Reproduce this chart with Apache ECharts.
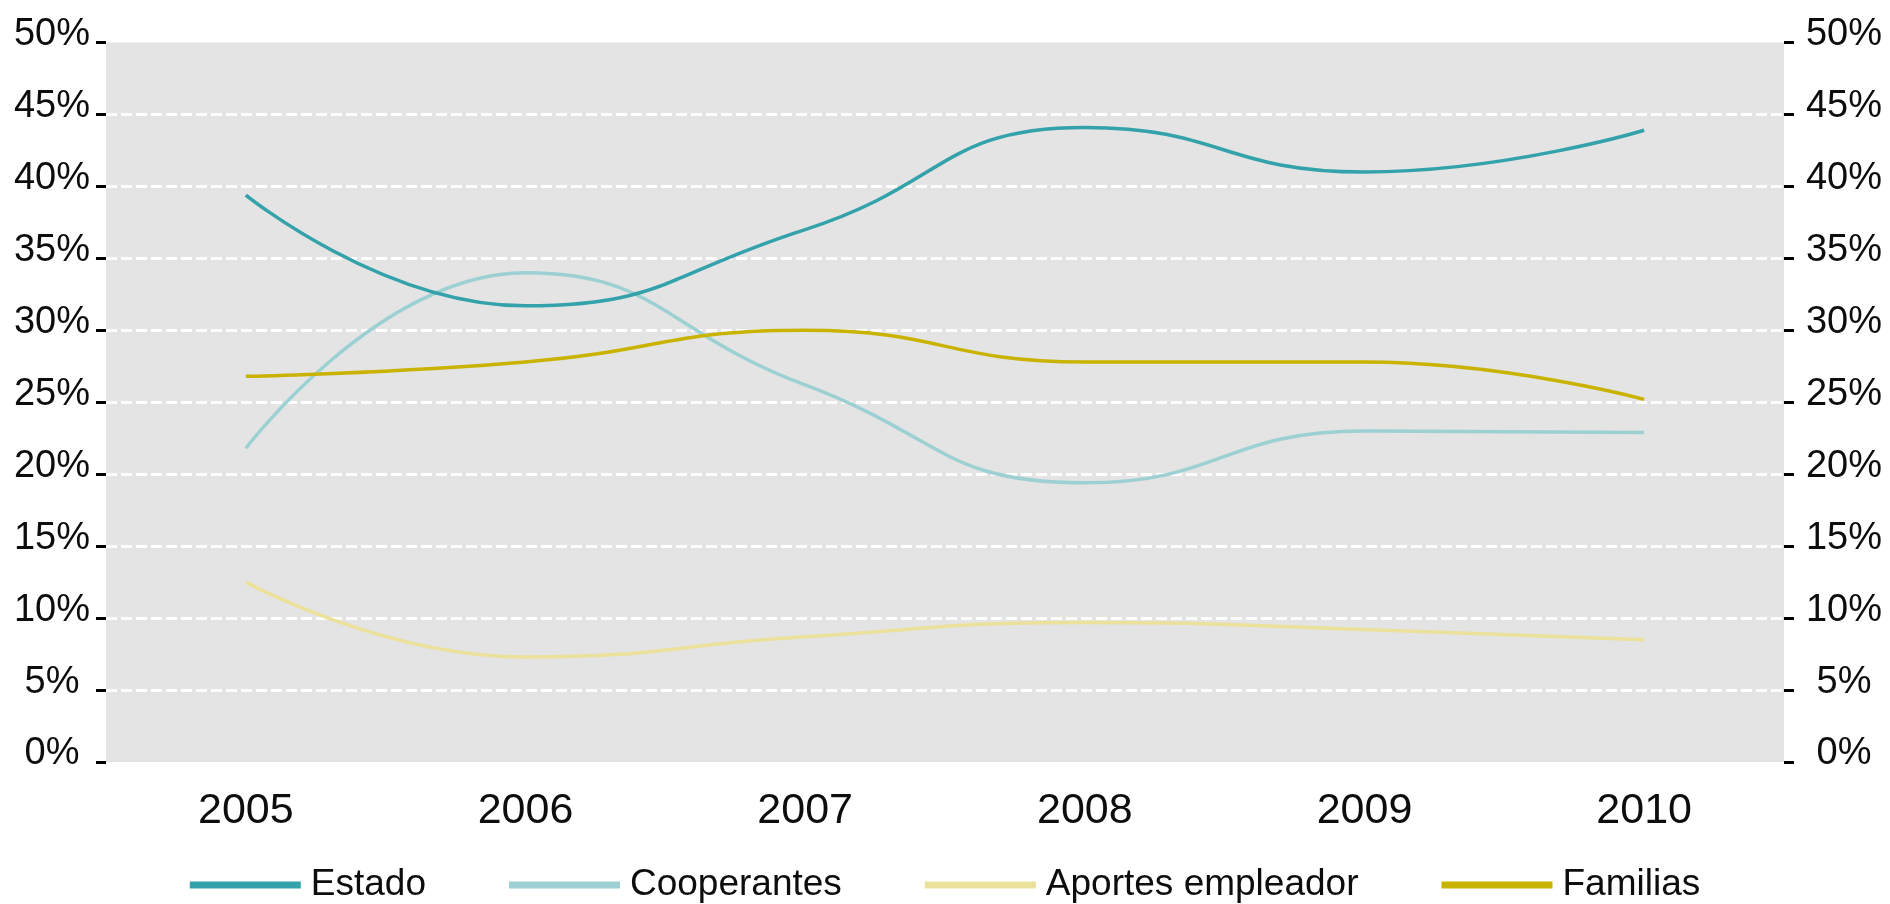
<!DOCTYPE html>
<html>
<head>
<meta charset="utf-8">
<script src="https://cdn.jsdelivr.net/npm/echarts@6/dist/echarts.min.js"></script>
<style>
html,body{margin:0;padding:0;background:#fff;}
#chart{width:1890px;height:904px;}
</style>
</head>
<body>
<div id="chart"></div>
<script>
const years = ['2005', '2006', '2007', '2008', '2009', '2010'];
const estado = [39.4, 31.7, 37.0, 44.1, 41.0, 43.9];
const cooperantes = [21.8, 34.0, 26.2, 19.4, 23.0, 22.9];
const aportes = [12.5, 7.3, 8.7, 9.7, 9.2, 8.5];
const familias = [26.8, 27.8, 30.0, 27.8, 27.8, 25.2];
const yTicks = [0, 5, 10, 15, 20, 25, 30, 35, 40, 45, 50];

const FONT = '"Liberation Sans", Arial, sans-serif';

const chart = echarts.init(document.getElementById('chart'), null, {renderer: 'canvas'});

function valueAxis(pos, margin) {
  return {
    type: 'value',
    position: pos,
    min: yTicks[0],
    max: yTicks[yTicks.length - 1],
    interval: yTicks[1] - yTicks[0],
    axisLine: {show: false},
    axisTick: {show: true, inside: false, length: 10, lineStyle: {color: '#000', width: 3}},
    axisLabel: {
      formatter: v => v + '%',
      fontFamily: FONT, fontSize: 38, color: '#0d0d0d',
      align: 'center', margin: margin,
      verticalAlign: 'bottom', lineHeight: 16
    },
    splitLine: {
      show: pos === 'left',
      showMinLine: false, showMaxLine: false,
      lineStyle: {color: '#ffffff', width: 3, type: [11, 4]}
    }
  };
}

const lw = 3.5;
chart.setOption({
  animation: false,
  backgroundColor: '#ffffff',
  grid: {left: 106, right: 106, top: 42.5, bottom: 142, show: true, backgroundColor: '#e3e4e3', borderWidth: 0},
  xAxis: {
    type: 'category',
    data: years,
    boundaryGap: true,
    axisLine: {show: false},
    axisTick: {show: false},
    axisLabel: {fontFamily: FONT, fontSize: 43, color: '#0d0d0d', margin: 49, verticalAlign: 'middle'},
    splitLine: {show: false}
  },
  yAxis: [valueAxis('left', 54), valueAxis('right', 60)],
  legend: {
    top: 854,
    left: 'center',
    icon: 'rect',
    itemWidth: 111,
    itemHeight: 7,
    itemGap: 83,
    textStyle: {fontFamily: FONT, fontSize: 37, lineHeight: 52, color: '#0d0d0d', padding: [0, 0, 0, 5]},
    data: ['Estado', 'Cooperantes', 'Aportes empleador', 'Familias']
  },
  series: [
    {name: 'Estado', type: 'line', data: estado, smooth: 0.5, showSymbol: false, symbol: 'none', lineStyle: {width: lw, color: '#34a2ab'}, itemStyle: {color: '#34a2ab'}, z: 5},
    {name: 'Cooperantes', type: 'line', data: cooperantes, smooth: 0.5, showSymbol: false, symbol: 'none', lineStyle: {width: lw, color: '#9dd0d3'}, itemStyle: {color: '#9dd0d3'}, z: 4},
    {name: 'Aportes empleador', type: 'line', data: aportes, smooth: 0.5, showSymbol: false, symbol: 'none', lineStyle: {width: lw, color: '#ebe19b'}, itemStyle: {color: '#ebe19b'}, z: 3},
    {name: 'Familias', type: 'line', data: familias, smooth: 0.5, showSymbol: false, symbol: 'none', lineStyle: {width: lw, color: '#c9b300'}, itemStyle: {color: '#c9b300'}, z: 4}
  ]
});
</script>
</body>
</html>
